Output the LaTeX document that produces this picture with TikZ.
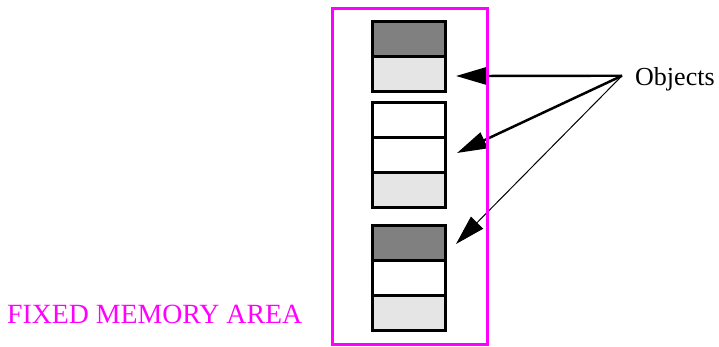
\documentclass[tikz,border=0pt]{standalone}
\usepackage{fontspec}
\setmainfont{Liberation Serif}
\usetikzlibrary{arrows.meta, positioning}
\definecolor{areamag}{RGB}{255,0,255}

\begin{document}
\begin{tikzpicture}[
    x=1pt, y=-1pt,
    cell/.style={rectangle, draw, line width=3pt, minimum width=73pt,
      minimum height=35pt, inner sep=0pt, outer sep=0pt},
    dk/.style={cell, fill=gray},
    lt/.style={cell, fill=black!10},
    wh/.style={cell, fill=white},
    lbl/.style={font=\fontsize{27.8}{30}\selectfont, inner sep=0pt},
    arr/.style={-{Triangle[length=30pt, width=17pt]}}
  ]
    \useasboundingbox (0,0) rectangle (719,346);

    % first object
    \node[dk, anchor=north] (o1a) at (408.5,21) {};
    \node[lt, below=0pt of o1a] (o1b) {};
    % second object
    \node[wh, anchor=north] (o2a) at (408.5,102) {};
    \node[wh, below=0pt of o2a] (o2b) {};
    \node[lt, below=0pt of o2b] (o2c) {};
    % third object
    \node[dk, anchor=north] (o3a) at (408.5,225) {};
    \node[wh, below=0pt of o3a] (o3b) {};
    \node[lt, below=0pt of o3b] (o3c) {};

    \node[lbl, font=\fontsize{26}{30}\selectfont, anchor=base west,
      inner xsep=13pt] (objects) at (622,85) {Objects};
    \node[lbl, anchor=base west, text=areamag] (fixed) at (7,323) {FIXED MEMORY AREA};

    \coordinate (t1) at (456,76);
    \coordinate (t2) at (457,153);
    \coordinate (t3) at (456,244);

    \draw[arr, line width=2.4pt] ([yshift=3pt]objects.west) -- (t1);
    \draw[arr, line width=2.5pt] ([yshift=3pt]objects.west) -- (t2);
    \draw[arr, line width=1pt] ([yshift=3pt]objects.west) -- (t3);

    \node[rectangle, draw=areamag, line width=3pt, minimum width=155pt,
      minimum height=336pt, inner sep=0pt, outer sep=0pt] (area) at (409.5,176) {};
  \end{tikzpicture}
\end{document}
